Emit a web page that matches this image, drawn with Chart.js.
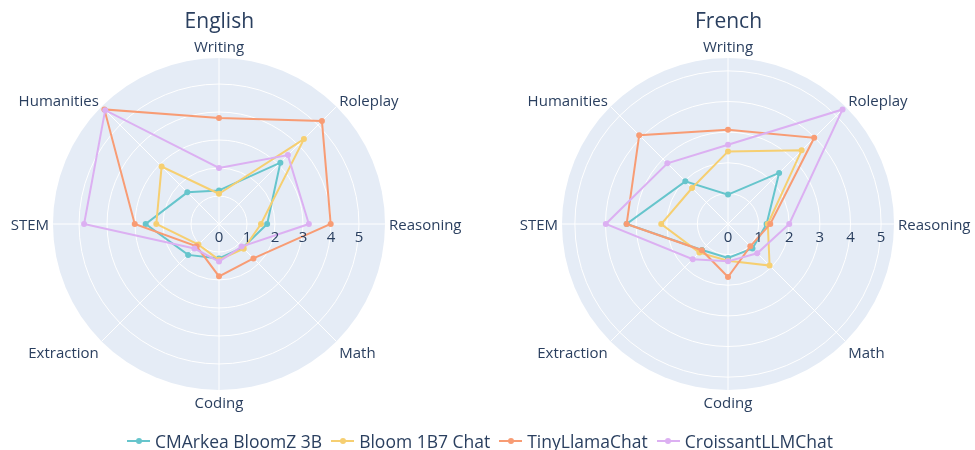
<!DOCTYPE html>
<html>
<head>
<meta charset="utf-8">
<title>MT-Bench radar</title>
<script src="https://cdn.jsdelivr.net/npm/chart.js@4"></script>
<style>
  html, body { margin: 0; padding: 0; background: #fff; overflow: hidden; }
  #wrap { position: relative; width: 975px; height: 450px; }
  canvas { position: absolute; top: 0; }
  #legend { position: absolute; left: 127px; top: 431px; display: flex; font: 17.5px "Open Sans"; line-height: 20px; color: #2a3f5f; white-space: nowrap; }
  .item { display: flex; align-items: center; margin-right: 9px; }
  .mark { position: relative; width: 23px; height: 2px; margin-right: 5px; }
  .mark i { position: absolute; left: 8.5px; top: -2px; width: 6px; height: 6px; border-radius: 50%; }
</style>
</head>
<body>
<div id="wrap">
  <canvas id="chart-en" width="487" height="450" style="left:0"></canvas>
  <canvas id="chart-fr" width="488" height="450" style="left:487px"></canvas>
  <div id="legend"></div>
</div>
<script>
'use strict';

const TEXT = '#2a3f5f';

const categories = ['Writing', 'Roleplay', 'Reasoning', 'Math', 'Coding', 'Extraction', 'STEM', 'Humanities'];
const seriesNames = ['CMArkea BloomZ 3B', 'Bloom 1B7 Chat', 'TinyLlamaChat', 'CroissantLLMChat'];
const seriesColors = ['rgb(102,197,204)', 'rgb(246,207,113)', 'rgb(248,156,116)', 'rgb(220,176,242)'];

// English scores
const enCMArkea   = [1.2, 3.1, 1.72, 1.2, 1.23, 1.56, 2.62, 1.6];
const enBloom     = [1.08, 4.29, 1.5, 1.25, 1.28, 1.04, 2.24, 2.9];
const enTinyLlama = [3.79, 5.2, 3.99, 1.74, 1.87, 1.13, 3.01, 5.79];
const enCroissant = [2.0, 3.48, 3.21, 1.14, 1.34, 1.24, 4.82, 5.75];

// French scores
const frCMArkea   = [0.96, 2.36, 1.26, 1.13, 1.11, 1.2, 3.31, 1.97];
const frBloom     = [2.37, 3.4, 1.3, 1.92, 1.2, 1.32, 2.18, 1.66];
const frTinyLlama = [3.08, 3.98, 1.38, 1.03, 1.73, 1.21, 3.31, 4.1];
const frCroissant = [2.59, 5.29, 2.0, 1.35, 1.22, 1.63, 3.99, 2.8];

// radial axis upper bounds (plotly autorange)
const enMax = 5.93;
const frMax = 5.42;

Chart.defaults.font.family = '"Open Sans"';

// axis labels + radial tick labels, placed the plotly way
const polarText = {
  id: 'polarText',
  afterDatasetsDraw(chart) {
    const r = chart.scales.r;
    const ctx = chart.ctx;
    ctx.save();
    ctx.fillStyle = TEXT;
    ctx.font = '15px "Open Sans"';
    ctx.textBaseline = 'middle';
    categories.forEach((label, i) => {
      const p = r.getPointPosition(i, r.drawingArea + 4);
      const c = Math.cos(p.angle);
      const s = -Math.sin(p.angle);
      ctx.textAlign = c > 0.01 ? 'left' : c < -0.01 ? 'right' : 'center';
      let dy = 1.5;
      if (s > 0.99) dy = -6.5;
      else if (s < -0.99) dy = 10;
      else if (s > 0.01) dy = -2;
      else if (s < -0.01) dy = 10;
      ctx.fillText(label, p.x, p.y + dy);
    });
    ctx.textAlign = 'center';
    r.ticks.forEach(t => {
      ctx.fillText(t.label, r.xCenter + r.getDistanceFromCenterForValue(t.value), r.yCenter + 14);
    });
    ctx.restore();
  },
};

function makeRadar(id, title, series, max, pad) {
  return new Chart(document.getElementById(id), {
    type: 'radar',
    data: {
      labels: categories,
      datasets: series.map((vals, k) => ({
        label: seriesNames[k],
        data: vals,
        borderColor: seriesColors[k],
        backgroundColor: seriesColors[k],
        pointBackgroundColor: seriesColors[k],
        pointBorderWidth: 0,
        pointRadius: 3,
        borderWidth: 2,
        fill: false,
        order: series.length - k,
      })),
    },
    options: {
      responsive: false,
      animation: false,
      layout: { padding: pad },
      plugins: {
        legend: { display: false },
        tooltip: { enabled: false },
        title: {
          display: true,
          text: title,
          color: TEXT,
          font: { size: 21, weight: 'normal' },
          padding: { top: 9.4, bottom: 23.7 },
        },
      },
      scales: {
        r: {
          min: 0,
          max,
          bounds: 'data',
          backgroundColor: '#E5ECF6',
          grid: { circular: true, color: '#fff' },
          angleLines: { color: '#fff' },
          ticks: { stepSize: 1, includeBounds: false, display: false },
          pointLabels: { display: false },
        },
      },
    },
    plugins: [polarText],
  });
}

makeRadar('chart-en', 'English', [enCMArkea, enBloom, enTinyLlama, enCroissant], enMax,
  { left: 53.3, right: 101.7, top: 0, bottom: 59.7 });
makeRadar('chart-fr', 'French', [frCMArkea, frBloom, frTinyLlama, frCroissant], frMax,
  { left: 75.5, right: 80.5, top: 0, bottom: 59.7 });

const legendEl = document.getElementById('legend');
seriesNames.forEach((name, k) => {
  const item = document.createElement('div');
  item.className = 'item';
  item.innerHTML = `<span class="mark" style="background:${seriesColors[k]}"><i style="background:${seriesColors[k]}"></i></span><span>${name}</span>`;
  legendEl.appendChild(item);
});
</script>
</body>
</html>
